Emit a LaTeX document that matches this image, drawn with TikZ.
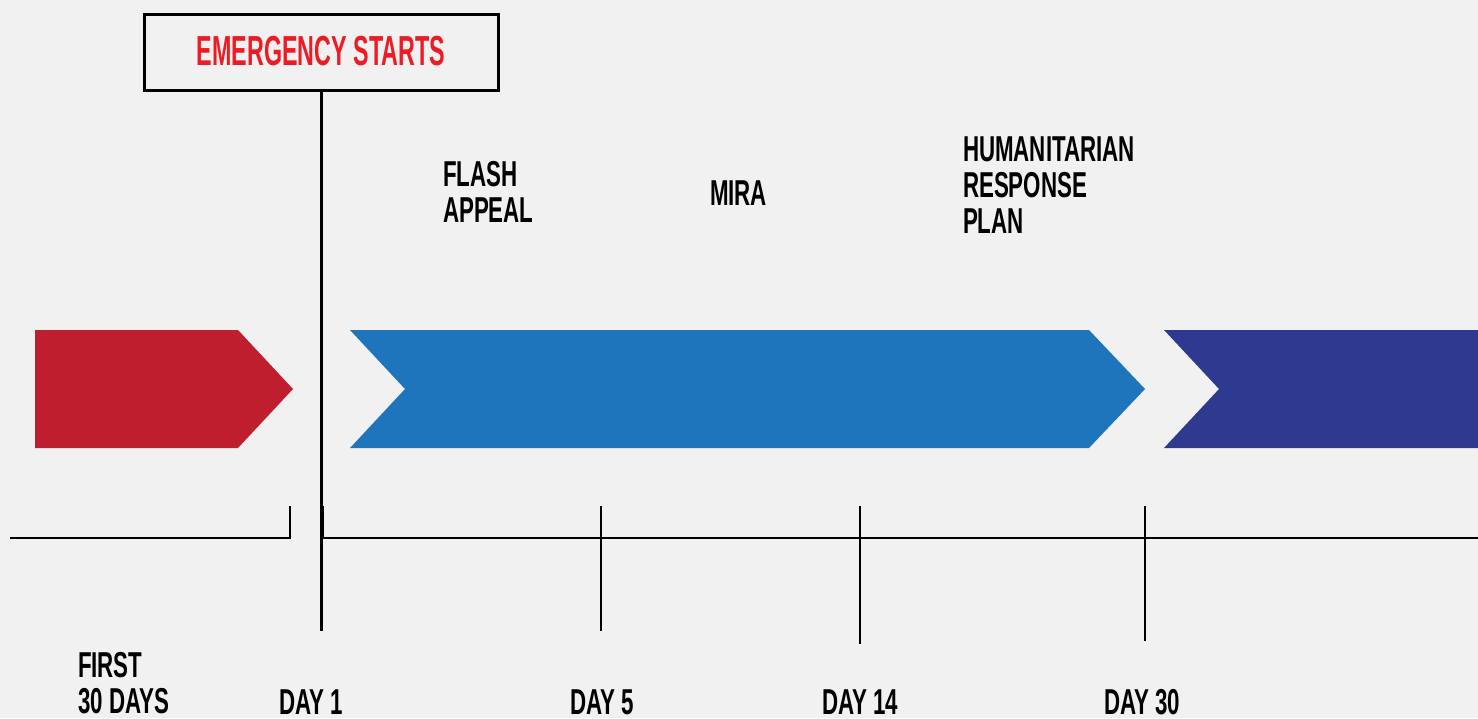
\documentclass[tikz,border=0pt]{standalone}
\usepackage{fontspec}
\newfontfamily\cond{Liberation Sans Bold}[FakeStretch=0.62]
\newfontfamily\condem{Liberation Sans Bold}[FakeStretch=0.555]
\definecolor{bg}{HTML}{F1F1F1}
\definecolor{redarrow}{HTML}{BE1E2D}
\definecolor{bluearrow}{HTML}{1F75BC}
\definecolor{navyarrow}{HTML}{2D3A8F}
\definecolor{redtext}{HTML}{ED1C24}
\tikzset{
  axisline/.style={line width=2.7pt, black},
  lbl/.style={inner sep=0pt, outer sep=0pt, anchor=base west, font=\cond\fontsize{36}{36}\selectfont},
  mlbl/.style={inner sep=0pt, outer sep=0pt, anchor=north west, align=left, font=\cond\fontsize{36}{36}\selectfont}
}
\begin{document}
\begin{tikzpicture}[x=1pt,y=-1pt]
\fill[bg] (0,0) rectangle (1478,718);
\useasboundingbox (0,0) rectangle (1478,718);

% arrows
\fill[redarrow] (35,330) -- (238,330) -- (293,389) -- (238,448) -- (35,448) -- cycle;
\fill[bluearrow] (350,330) -- (1089,330) -- (1145,389) -- (1089,448) -- (350,448) -- (405,389) -- cycle;
\fill[navyarrow] (1164,330) -- (1478,330) -- (1478,448) -- (1164,448) -- (1219,389) -- cycle;

% emergency box
\node[draw=black, line width=3pt, minimum width=354pt, minimum height=76pt, inner sep=0pt, outer sep=0pt, anchor=center] (em) at (321.5,52) {};
\node[inner sep=0pt, anchor=base, text=redtext, font=\condem\fontsize{42}{42}\selectfont] (emtext) at (321,65) {EMERGENCY STARTS};

% axis
\coordinate (axL) at (10,538);
\coordinate (axLend) at (290,538);
\coordinate (axLtop) at (290,506);
\coordinate (axR0) at (321.5,538);
\coordinate (axR) at (1478,538);
\coordinate (d1bot) at (321.5,631);
\coordinate (d1top) at (321.5,506);
\coordinate (d5top) at (601,506);
\coordinate (d5bot) at (601,631);
\coordinate (d14top) at (860,506);
\coordinate (d14bot) at (860,644);
\coordinate (d30top) at (1145,506);
\coordinate (d30bot) at (1145,641);

\draw[axisline] (axL) -- (axLend) -- (axLtop);
\draw[axisline] (axR0) -- (axR);
\draw[axisline] (em.south) -- (d1bot);
\draw[line width=4pt] (d1top) -- (axR0);
\draw[axisline] (d5top) -- (d5bot);
\draw[axisline] (d14top) -- (d14bot);
\draw[axisline] (d30top) -- (d30bot);

% top labels
\node[mlbl] (flash) at (443,161) {FLASH\\APPEAL};
\node[lbl] (mira) at (710,205) {MIRA};
\node[mlbl] (hrp) at (963,137) {HUMANITARIAN\\RESPONSE\\PLAN};

% bottom labels
\node[mlbl] (first) at (78,652) {FIRST\\30 DAYS};
\node[lbl] (day1) at (279,714) {DAY 1};
\node[lbl] (day5) at (570,714) {DAY 5};
\node[lbl] (day14) at (822,714) {DAY 14};
\node[lbl] (day30) at (1104,714) {DAY 30};
\end{tikzpicture}
\end{document}
